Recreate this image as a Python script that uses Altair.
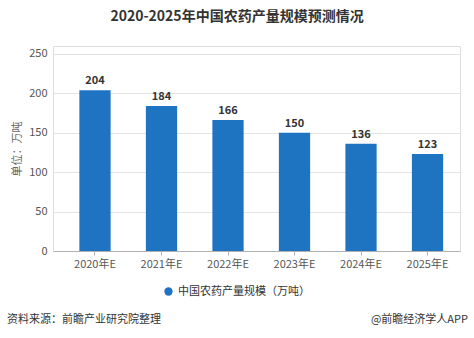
import altair as alt
import pandas as pd

years = ["2020年E", "2021年E", "2022年E", "2023年E", "2024年E", "2025年E"]
values = [204, 184, 166, 150, 136, 123]
series_name = "中国农药产量规模（万吨）"
title_text = "2020-2025年中国农药产量规模预测情况"
source_text = "资料来源：前瞻产业研究院整理"
brand_text = "@前瞻经济学人APP"
y_title = "单位：万吨"

FONT = "Noto Sans CJK SC"

df = pd.DataFrame({"year": years, "value": values, "series": [series_name] * len(years)})

x = alt.X("year:N", sort=years, title=None,
          scale=alt.Scale(paddingInner=0.53, paddingOuter=0.325, align=0.61),
          axis=alt.Axis(labelAngle=0, labelFontSize=11, labelColor="#555555", labelFont=FONT,
                        domainColor="#b0b0b0", tickColor="#b0b0b0", tickSize=4, labelPadding=3,
                        grid=False))
y = alt.Y("value:Q", title=y_title,
          scale=alt.Scale(domain=[0, 250]),
          axis=alt.Axis(values=[0, 50, 100, 150, 200, 250], labelFontSize=11, labelColor="#555555",
                        labelFont=FONT, domain=False, ticks=False, labelPadding=6,
                        gridColor="#e3e3e3", titleFontSize=11, titleColor="#666666",
                        titleFont=FONT, titleFontWeight="normal", titlePadding=6))

bars = alt.Chart(df).mark_bar(color="#1f74c2").encode(
    x=x, y=y,
    color=alt.Color("series:N", scale=alt.Scale(range=["#1f74c2"]),
                    legend=alt.Legend(title=None, orient="none", legendX=110, legendY=240,
                                      symbolType="circle", symbolSize=70, labelFontSize=11,
                                      labelColor="#333333", labelFont=FONT, symbolStrokeWidth=0))
)

labels = alt.Chart(df).mark_text(dy=-9, fontSize=11, fontWeight="bold", color="#333333",
                                 font=FONT).encode(
    x=alt.X("year:N", sort=years), y="value:Q", text="value:Q")

title_df = pd.DataFrame({"t": [title_text]})
title = alt.Chart(title_df).mark_text(fontSize=14, fontWeight="bold", color="#333333",
                                      font=FONT, align="center", baseline="middle").encode(
    x=alt.value(184), y=alt.value(-29), text="t:N")

src_df = pd.DataFrame({"t": [source_text]})
src = alt.Chart(src_df).mark_text(fontSize=11, color="#333333", font=FONT,
                                  align="left", baseline="middle").encode(
    x=alt.value(-46), y=alt.value(274), text="t:N")

brand_df = pd.DataFrame({"t": [brand_text]})
brand = alt.Chart(brand_df).mark_text(fontSize=11, color="#333333", font=FONT,
                                      align="right", baseline="middle").encode(
    x=alt.value(415), y=alt.value(274), text="t:N")

chart = alt.layer(bars, labels, title, src, brand).properties(
    width=407, height=205,
    autosize=alt.AutoSizeParams(type="none"),
    padding={"left": 53, "top": 46, "right": 14, "bottom": 87},
).configure_view(stroke=None).configure(background="white")

chart.save("out.html", embed_options={"renderer": "svg", "actions": False})
